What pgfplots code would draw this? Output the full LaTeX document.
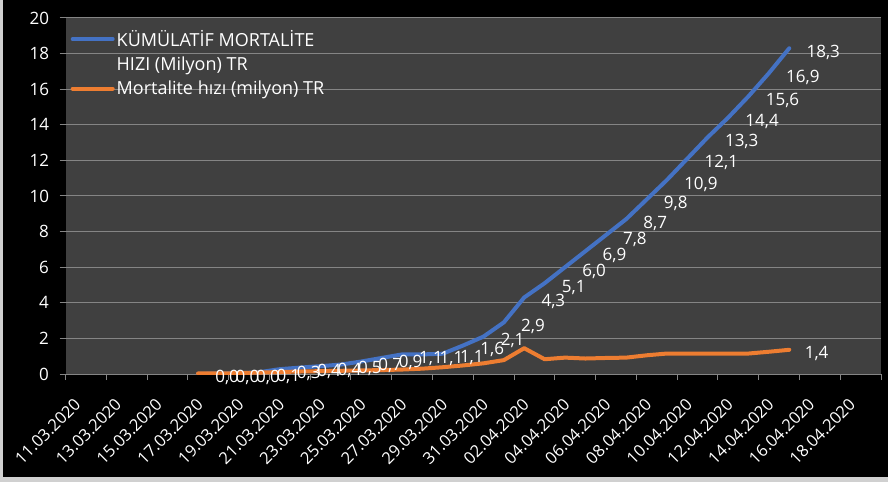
\documentclass[border=0pt]{standalone}
\usepackage{fontspec}
\setmainfont{Open Sans}
\usepackage{pgfplots}
\pgfplotsset{compat=1.18}
\definecolor{plotbg}{HTML}{404040}
\definecolor{gridc}{HTML}{858585}
\definecolor{xlblue}{HTML}{4472C4}
\definecolor{xlorange}{HTML}{ED7D31}
\definecolor{outerc}{HTML}{D0D0D0}
\begin{document}
\begin{tikzpicture}[x=1pt,y=1pt]
\fill[outerc] (0,0) rectangle (888,482);
\fill[black] (3,5) rectangle (888,482);
\useasboundingbox (0,0) rectangle (888,482);
\begin{axis}[
  at={(65.5pt,108pt)}, anchor=south west,
  scale only axis, width=815.5pt, height=356pt,
  xmin=-0.5, xmax=39.5, ymin=0, ymax=20,
  axis background/.style={fill=plotbg},
  axis x line*=bottom, axis y line*=left,
  x axis line style={draw=gridc, line width=1pt},
  y axis line style={draw=none},
  ymajorgrids, grid style={draw=gridc, line width=1pt},
  ytick={0,2,...,20},
  xtick={0,2,...,38},
  xticklabels={11.03.2020,13.03.2020,15.03.2020,17.03.2020,19.03.2020,21.03.2020,23.03.2020,25.03.2020,27.03.2020,29.03.2020,31.03.2020,02.04.2020,04.04.2020,06.04.2020,08.04.2020,10.04.2020,12.04.2020,14.04.2020,16.04.2020,18.04.2020},
  minor xtick={-0.5,1.5,...,39.5},
  tick align=outside,
  major x tick style={draw=none},
  minor x tick style={draw=gridc, line width=1pt},
  major y tick style={draw=gridc, line width=1pt},
  major tick length=6pt, minor tick length=6pt,
  /pgf/number format/assume math mode=true,
  /pgf/number format/.cd, fixed, fixed zerofill, precision=1, use comma, /pgfplots/.cd,
  yticklabel style={/pgf/number format/precision=0, /pgf/number format/fixed zerofill=false, text=white, font=\fontsize{17}{20}\selectfont, xshift=-7pt},
  xticklabel style={rotate=45, anchor=east, text=white, font=\fontsize{16.5}{19}\selectfont, yshift=-16.5pt, xshift=-10.5pt},
  legend style={at={(0,1)}, anchor=north west, xshift=2pt, yshift=-8pt, draw=none, fill=none,
    font=\fontsize{18}{21}\selectfont, text=white, row sep=5pt,
    nodes={inner xsep=2pt}},
  legend cell align=left,
  legend image code/.code={\draw[#1] (0pt,0pt) -- (40pt,0pt);},
  every node near coord/.append style={anchor=west, xshift=12pt, yshift=-4pt, text=white, font=\fontsize{17}{20}\selectfont},
]
\addplot[xlblue, line width=4pt, line cap=round, line join=round, nodes near coords] coordinates {
(6,0.01) (7,0.02) (8,0.04) (9,0.1) (10,0.27) (11,0.36) (12,0.44) (13,0.53) (14,0.7) (15,0.9)
(16,1.1) (17,1.1) (18,1.14) (19,1.6) (20,2.1) (21,2.9) (22,4.3) (23,5.1) (24,6.0) (25,6.9)
(26,7.8) (27,8.7) (28,9.8) (29,10.9) (30,12.1) (31,13.3) (32,14.4) (33,15.6) (34,16.9) (35,18.3)
};
\addlegendentry{KÜMÜLATİF MORTALİTE}
\addlegendimage{empty legend}
\addlegendentry{HIZI (Milyon) TR}
\addplot[xlorange, line width=4pt, line cap=round, line join=round] coordinates {
(6,0.03) (7,0.03) (8,0.05) (9,0.08) (10,0.11) (11,0.14) (12,0.16) (13,0.18) (14,0.2) (15,0.22)
(16,0.25) (17,0.3) (18,0.38) (19,0.48) (20,0.6) (21,0.78) (22,1.45) (23,0.83) (24,0.92) (25,0.87)
(26,0.9) (27,0.92) (28,1.05) (29,1.15) (30,1.15) (31,1.15) (32,1.15) (33,1.15) (34,1.25) (35,1.36)
};
\addlegendentry{Mortalite hızı (milyon) TR}
\addplot[draw=none, forget plot, nodes near coords] coordinates {(35,1.36)};
\end{axis}
\end{tikzpicture}
\end{document}
